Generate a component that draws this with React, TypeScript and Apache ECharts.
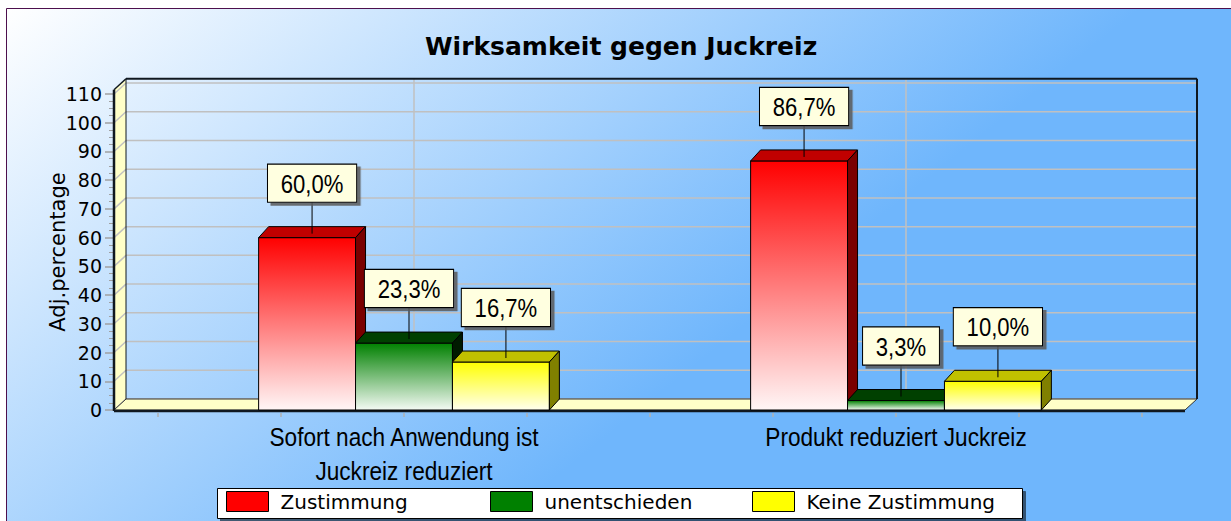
import React, { useEffect, useRef } from 'react';
import * as echarts from 'echarts';

// ---- data ----
const CATEGORIES = ['Sofort nach Anwendung ist\nJuckreiz reduziert', 'Produkt reduziert Juckreiz'];
const SERIES_NAMES = ['Zustimmung', 'unentschieden', 'Keine Zustimmung'];
const ZUSTIMMUNG = [60.0, 86.7];
const UNENTSCHIEDEN = [23.3, 3.3];
const KEINE_ZUSTIMMUNG = [16.7, 10.0];
const Y_TICKS = [0, 10, 20, 30, 40, 50, 60, 70, 80, 90, 100, 110];
const TITLE = 'Wirksamkeit gegen Juckreiz';
const Y_NAME = 'Adj.percentage';

// ---- styling / layout constants ----
const Y_MIN = 0;
const Y_MAX = 110;
const Y_STEP = 10;
const WALL_TOP = 111.5;
const BAR_FRAC = 0.197;
const BDX = 10;
const BDY = 11;
const WDX = 12;
const WDY = 11;
const EXT_L = 44;
const EXT_R = 43;
const LABEL_GAP = 36;
const CAT_SCALE = 0.87;
const VAL_SCALE = 0.85;
const LABEL_PAD = [6, 15, 5, 15];
const NARROW = "'Liberation Sans', Arial, sans-serif";
const SANS = "'DejaVu Sans', Verdana, sans-serif";
const WALL_FILL = '#ffffc8';
const GRID_COLOR = '#c0c0c0';
const LEGEND_BOX = { x: 217, y: 488, w: 805, h: 30 };
const LEGEND_ITEM_X = [226, 490, 752];

const PALETTE = [
  { front: ['#ff0000', '#fff6f6'], top: '#c00000', side: '#7a0000', legend: '#ff0000' },
  { front: ['#008000', '#f4faf4'], top: '#004000', side: '#001a00', legend: '#008000' },
  { front: ['#ffff00', '#ffffee'], top: '#c0c000', side: '#808000', legend: '#ffff00' },
];
const SERIES_VALUES = [ZUSTIMMUNG, UNENTSCHIEDEN, KEINE_ZUSTIMMUNG];

const fmt = (v: number) => v.toFixed(1).replace('.', ',') + '%';

function makeBarRender(idx: number) {
  const pal = PALETTE[idx];
  return (_params: any, api: any) => {
    const cat = api.value(0);
    const val = api.value(1);
    const top = api.coord([cat, val]);
    const base = api.coord([cat, 0]);
    const band = api.size([1, 0])[0];
    const w = band * BAR_FRAC;
    const cx = top[0] + (idx - 1) * w;
    const x0 = cx - w / 2;
    const x1 = cx + w / 2;
    const yT = top[1];
    const yB = base[1];
    const lx = cx + BDX / 2;
    const boxBottom = yT - LABEL_GAP;
    const text = fmt(val);
    return {
      type: 'group',
      children: [
        {
          type: 'rect',
          shape: { x: x0, y: yT, width: w, height: yB - yT },
          style: {
            fill: new echarts.graphic.LinearGradient(0, 0, 0, 1, [
              { offset: 0, color: pal.front[0] },
              { offset: 1, color: pal.front[1] },
            ]),
            stroke: '#000',
            lineWidth: 1,
          },
        },
        {
          type: 'polygon',
          shape: { points: [[x0, yT], [x0 + BDX, yT - BDY], [x1 + BDX, yT - BDY], [x1, yT]] },
          style: { fill: pal.top, stroke: '#000', lineWidth: 1 },
        },
        {
          type: 'polygon',
          shape: { points: [[x1, yT], [x1 + BDX, yT - BDY], [x1 + BDX, yB - BDY], [x1, yB]] },
          style: { fill: pal.side, stroke: '#000', lineWidth: 1 },
        },
        {
          type: 'line',
          z2: 50,
          shape: { x1: lx, y1: boxBottom, x2: lx, y2: yT - 4 },
          style: { stroke: '#000', lineWidth: 1 },
        },
        {
          type: 'text',
          z2: 52,
          x: lx,
          y: boxBottom,
          scaleX: VAL_SCALE,
          style: {
            text,
            fontSize: 26,
            fontFamily: NARROW,
            fill: '#000',
            backgroundColor: '#ffffe0',
            borderColor: '#000',
            borderWidth: 1.2,
            padding: LABEL_PAD,
            align: 'center',
            verticalAlign: 'bottom',
            shadowColor: 'rgba(90,90,90,0.85)',
            shadowBlur: 0.5,
            shadowOffsetX: 3.5,
            shadowOffsetY: 3,
          },
        },
      ],
    };
  };
}

function renderWalls(_params: any, api: any) {
  const c0 = api.coord([0, 0]);
  const band = api.size([1, 0])[0];
  const axisStart = c0[0] - band / 2;
  const axL = axisStart - EXT_L;
  const axR = axisStart + band * CATEGORIES.length + EXT_R;
  const yBase = c0[1];
  const yTop = api.coord([0, WALL_TOP])[1];
  const children: any[] = [];
  const grey = { stroke: GRID_COLOR, lineWidth: 1.5 };
  Y_TICKS.forEach((v) => {
    const y = api.coord([0, v])[1];
    children.push({ type: 'line', shape: { x1: axL + WDX, y1: y - WDY, x2: axR + WDX, y2: y - WDY }, style: grey });
  });
  CATEGORIES.forEach((_c, i) => {
    const x = api.coord([i, 0])[0] + WDX - 2;
    children.push({ type: 'line', shape: { x1: x, y1: yTop - WDY, x2: x, y2: yBase - WDY }, style: grey });
  });
  children.push({
    type: 'polygon',
    shape: { points: [[axL, yBase], [axL, yTop], [axL + WDX, yTop - WDY], [axL + WDX, yBase - WDY]] },
    style: { fill: WALL_FILL },
  });
  Y_TICKS.forEach((v) => {
    const y = api.coord([0, v])[1];
    children.push({ type: 'line', shape: { x1: axL, y1: y, x2: axL + WDX, y2: y - WDY }, style: grey });
  });
  children.push({
    type: 'polygon',
    shape: { points: [[axL, yBase], [axR, yBase], [axR + WDX, yBase - WDY], [axL + WDX, yBase - WDY]] },
    style: { fill: WALL_FILL, stroke: '#303030', lineWidth: 1 },
  });
  const dark = (lw: number) => ({ stroke: '#101820', lineWidth: lw });
  children.push({ type: 'line', shape: { x1: axL + WDX, y1: yTop - WDY, x2: axR + WDX, y2: yTop - WDY }, style: dark(2) });
  children.push({ type: 'line', shape: { x1: axR + WDX, y1: yTop - WDY, x2: axR + WDX, y2: yBase - WDY }, style: dark(2) });
  children.push({ type: 'line', shape: { x1: axL + WDX, y1: yTop - WDY, x2: axL + WDX, y2: yBase - WDY }, style: dark(1) });
  children.push({ type: 'line', shape: { x1: axL, y1: yTop, x2: axL + WDX, y2: yTop - WDY }, style: dark(1.5) });
  children.push({ type: 'line', shape: { x1: axL, y1: yTop, x2: axL, y2: yBase + 1 }, style: dark(2.5) });
  children.push({ type: 'line', shape: { x1: axL, y1: yBase + 1, x2: axR, y2: yBase + 1 }, style: dark(2.5) });
  for (let k = 0; k <= CATEGORIES.length * 4; k++) {
    const x = axisStart + (k * band) / 4;
    children.push({ type: 'line', shape: { x1: x, y1: yBase + 3, x2: x, y2: yBase + 7 }, style: { stroke: '#b0b0b0', lineWidth: 1.5 } });
  }
  CATEGORIES.forEach((name, i) => {
    const x = api.coord([i, 0])[0];
    children.push({
      type: 'text',
      x,
      y: yBase + 10,
      scaleX: CAT_SCALE,
      style: {
        text: name,
        fontSize: 26,
        fontFamily: NARROW,
        lineHeight: 34,
        fill: '#000',
        align: 'center',
        verticalAlign: 'top',
      },
    });
  });
  return { type: 'group', children };
}

export default function App() {
  const ref = useRef<HTMLDivElement>(null);
  useEffect(() => {
    if (!ref.current) return;
    const chart = echarts.init(ref.current, undefined, { renderer: 'svg' });
    const bg = new echarts.graphic.LinearGradient(
      6,
      8,
      450,
      562,
      [
        { offset: 0, color: '#ffffff' },
        { offset: 1, color: '#6fb6fc' },
      ],
      true
    );
    const option: any = {
      animation: false,
      backgroundColor: '#ffffff',
      graphic: [
        {
          type: 'rect',
          z: -10,
          silent: true,
          shape: { x: 6.5, y: 8.5, width: 1300, height: 600 },
          style: { fill: bg, stroke: '#4d0f4d', lineWidth: 1 },
        },
        {
          type: 'rect',
          z: 3,
          silent: true,
          shape: { x: LEGEND_BOX.x + 0.5, y: LEGEND_BOX.y + 0.5, width: LEGEND_BOX.w, height: LEGEND_BOX.h },
          style: {
            fill: '#ffffff',
            stroke: '#000',
            lineWidth: 1,
            shadowColor: 'rgba(0,0,0,0.55)',
            shadowOffsetX: 3,
            shadowOffsetY: 3,
            shadowBlur: 1,
          },
        },
      ],
      title: {
        text: TITLE,
        left: 420,
        top: 29,
        textStyle: { fontFamily: SANS, fontWeight: 'bold', fontSize: 25, color: '#000' },
      },
      legend: SERIES_NAMES.map((name, i) => ({
        data: [name],
        left: LEGEND_ITEM_X[i],
        top: LEGEND_BOX.y + 3,
        orient: 'horizontal',
        icon: 'rect',
        itemWidth: 42,
        itemHeight: 20,
        padding: 0,
        selectedMode: false,
        z: 5,
        itemStyle: { borderColor: '#000', borderWidth: 1 },
        textStyle: {
          fontFamily: SANS,
          fontSize: 20,
          color: '#000',
          padding: [0, 0, 0, 7],
        },
      })),
      grid: { left: 158, right: 89, top: 94, bottom: 111, containLabel: false },
      xAxis: {
        type: 'category',
        data: CATEGORIES,
        axisLine: { show: false },
        axisTick: { show: false },
        splitLine: { show: false },
        axisLabel: { show: false },
      },
      yAxis: {
        type: 'value',
        min: Y_MIN,
        max: Y_MAX,
        interval: Y_STEP,
        offset: EXT_L,
        axisLine: { show: false },
        axisTick: { show: true, length: 9, lineStyle: { color: '#a0a0a0', width: 1.5 } },
        minorTick: { show: true, splitNumber: 4, length: 5, lineStyle: { color: '#a0a0a0', width: 1 } },
        splitLine: { show: false },
        axisLabel: { fontFamily: SANS, fontSize: 19, color: '#000', margin: 12 },
        name: Y_NAME,
        nameLocation: 'middle',
        nameRotate: 90,
        nameGap: 46,
        nameMoveOverlap: false,
        nameTextStyle: { fontFamily: SANS, fontSize: 21, color: '#000' },
      },
      series: [
        {
          type: 'custom',
          name: '__walls',
          z: 1,
          silent: true,
          data: [[0, 0]],
          renderItem: renderWalls,
        },
        ...SERIES_NAMES.map((name, i) => ({
          type: 'custom',
          name,
          z: 2,
          itemStyle: { color: PALETTE[i].legend, borderColor: '#000', borderWidth: 1 },
          encode: { x: 0, y: 1 },
          data: SERIES_VALUES[i].map((v, c) => [c, v]),
          renderItem: makeBarRender(i),
        })),
      ],
    };
    chart.setOption(option);
    return () => chart.dispose();
  }, []);
  return <div ref={ref} style={{ position: 'fixed', left: 0, top: 0, width: 1231, height: 521 }} />;
}
